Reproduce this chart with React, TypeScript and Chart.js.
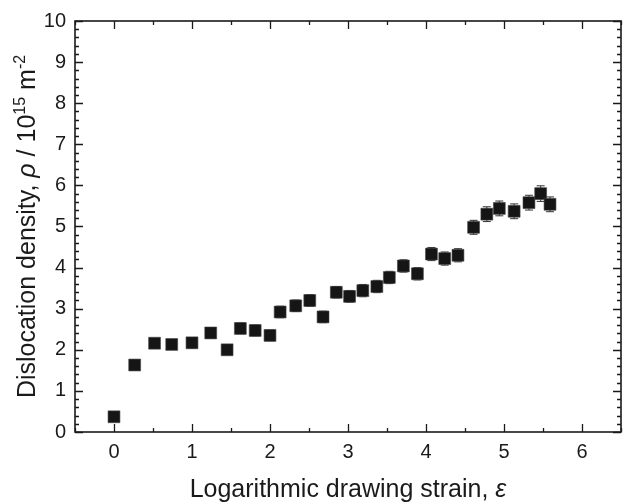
import React, { useEffect, useRef } from "react";
import { Chart, registerables } from "chart.js";

Chart.register(...registerables);

const strain = [0, 0.265, 0.52, 0.74, 1.0, 1.24, 1.45, 1.62, 1.81, 2.0, 2.13, 2.33, 2.51, 2.68, 2.85, 3.02, 3.19, 3.37, 3.53, 3.71, 3.89, 4.07, 4.24, 4.41, 4.61, 4.78, 4.94, 5.13, 5.32, 5.47, 5.59];
const density = [0.37, 1.63, 2.16, 2.13, 2.17, 2.41, 2.0, 2.52, 2.47, 2.35, 2.92, 3.07, 3.2, 2.8, 3.4, 3.3, 3.44, 3.54, 3.76, 4.04, 3.85, 4.33, 4.22, 4.3, 4.98, 5.3, 5.44, 5.37, 5.58, 5.8, 5.54];
const densityErr = [0.08, 0.1, 0.12, 0.12, 0.12, 0.12, 0.12, 0.13, 0.13, 0.13, 0.14, 0.14, 0.14, 0.14, 0.14, 0.14, 0.15, 0.15, 0.15, 0.15, 0.15, 0.16, 0.16, 0.16, 0.17, 0.18, 0.18, 0.18, 0.18, 0.19, 0.18];

const xTickValues = [0, 1, 2, 3, 4, 5, 6];
const yTickValues = [0, 1, 2, 3, 4, 5, 6, 7, 8, 9, 10];
const xMinorStep = 0.5;
const yMinorStep = 0.2;

const FONT = "'Liberation Sans', Arial, sans-serif";

const errorBarPlugin = {
  id: "errorBars",
  beforeDatasetsDraw(chart: any) {
    const ctx = chart.ctx;
    const xs = chart.scales.x;
    const ys = chart.scales.y;
    ctx.save();
    ctx.strokeStyle = "#333";
    ctx.lineWidth = 1;
    for (let i = 0; i < strain.length; i++) {
      const px = xs.getPixelForValue(strain[i]);
      const top = ys.getPixelForValue(density[i] + densityErr[i]);
      const bot = ys.getPixelForValue(density[i] - densityErr[i]);
      ctx.beginPath();
      ctx.moveTo(px, top);
      ctx.lineTo(px, bot);
      ctx.moveTo(px - 4, top);
      ctx.lineTo(px + 4, top);
      ctx.moveTo(px - 4, bot);
      ctx.lineTo(px + 4, bot);
      ctx.stroke();
    }
    ctx.restore();
  },
};

const framePlugin = {
  id: "frame",
  afterDraw(chart: any) {
    const ctx = chart.ctx;
    const { left, right, top, bottom } = chart.chartArea;
    const xs = chart.scales.x;
    const ys = chart.scales.y;
    ctx.save();
    ctx.strokeStyle = "#1a1a1a";
    ctx.lineWidth = 1.6;
    ctx.strokeRect(left, top, right - left, bottom - top);
    ctx.lineWidth = 1.3;
    ctx.beginPath();
    for (let v = xs.min; v <= xs.max + 1e-9; v += xMinorStep) {
      const major = Math.abs(v - Math.round(v)) < 1e-6;
      const len = major ? 8 : 4;
      const px = Math.round(xs.getPixelForValue(v)) + 0.5;
      ctx.moveTo(px, bottom);
      ctx.lineTo(px, bottom - len);
      ctx.moveTo(px, top);
      ctx.lineTo(px, top + len);
    }
    for (let v = ys.min; v <= ys.max + 1e-9; v += yMinorStep) {
      const major = Math.abs(v - Math.round(v)) < 1e-6;
      const len = major ? 8 : 4;
      const py = Math.round(ys.getPixelForValue(v)) + 0.5;
      ctx.moveTo(left, py);
      ctx.lineTo(left + len, py);
      ctx.moveTo(right, py);
      ctx.lineTo(right - len, py);
    }
    ctx.stroke();

    ctx.fillStyle = "#1a1a1a";
    ctx.textBaseline = "alphabetic";
    const xParts: [string, string][] = [
      ["Logarithmic drawing strain, ", `25px ${FONT}`],
      ["ε", `italic 25px ${FONT}`],
    ];
    let total = 0;
    for (const [t, f] of xParts) {
      ctx.font = f;
      total += ctx.measureText(t).width;
    }
    let cx = (left + right) / 2 - total / 2;
    for (const [t, f] of xParts) {
      ctx.font = f;
      ctx.fillText(t, cx, 497);
      cx += ctx.measureText(t).width;
    }

    const yParts: [string, string, number][] = [
      ["Dislocation density, ", `25px ${FONT}`, 0],
      ["ρ", `italic 25px ${FONT}`, 0],
      [" / 10", `25px ${FONT}`, 0],
      ["15", `16px ${FONT}`, -10],
      [" m", `25px ${FONT}`, 0],
      ["-2", `16px ${FONT}`, -10],
    ];
    ctx.translate(35, (top + bottom) / 2);
    ctx.rotate(-Math.PI / 2);
    total = 0;
    for (const [t, f] of yParts) {
      ctx.font = f;
      total += ctx.measureText(t).width;
    }
    cx = -total / 2;
    for (const [t, f, dy] of yParts) {
      ctx.font = f;
      ctx.fillText(t, cx, dy);
      cx += ctx.measureText(t).width;
    }
    ctx.restore();
  },
};

export default function App() {
  const ref = useRef<HTMLCanvasElement | null>(null);
  useEffect(() => {
    if (!ref.current) return;
    const chart = new Chart(ref.current, {
      type: "scatter",
      data: {
        datasets: [
          {
            data: strain.map((x, i) => ({ x, y: density[i] })),
            pointStyle: "rect",
            pointRadius: 8.4,
            pointHoverRadius: 8.4,
            backgroundColor: "#151515",
            borderColor: "#444",
            borderWidth: 0.6,
          },
        ],
      },
      options: {
        animation: false,
        responsive: false,
        events: [],
        layout: { padding: { left: 0, top: 16, right: 1, bottom: 0 } },
        plugins: { legend: { display: false }, tooltip: { enabled: false } },
        scales: {
          x: {
            type: "linear",
            min: -0.5,
            max: 6.5,
            grid: { display: false, drawTicks: false },
            border: { display: false },
            afterBuildTicks: (s: any) => {
              s.ticks = xTickValues.map((v) => ({ value: v }));
            },
            afterFit: (s: any) => {
              s.height = 72;
            },
            ticks: {
              padding: 8,
              color: "#1a1a1a",
              font: { family: FONT, size: 20 },
              maxRotation: 0,
              callback: (v: any) => String(v),
            },
          },
          y: {
            type: "linear",
            min: 0,
            max: 10,
            grid: { display: false, drawTicks: false },
            border: { display: false },
            afterBuildTicks: (s: any) => {
              s.ticks = yTickValues.map((v) => ({ value: v }));
            },
            afterFit: (s: any) => {
              s.width = 75;
            },
            ticks: {
              padding: 9,
              color: "#1a1a1a",
              font: { family: FONT, size: 20 },
              callback: (v: any) => String(v),
            },
          },
        },
      },
      plugins: [errorBarPlugin, framePlugin],
    });
    return () => chart.destroy();
  }, []);
  return (
    <div style={{ position: "absolute", left: 0, top: 0, width: 630, height: 504, background: "#fff" }}>
      <canvas ref={ref} width={630} height={504} />
    </div>
  );
}
